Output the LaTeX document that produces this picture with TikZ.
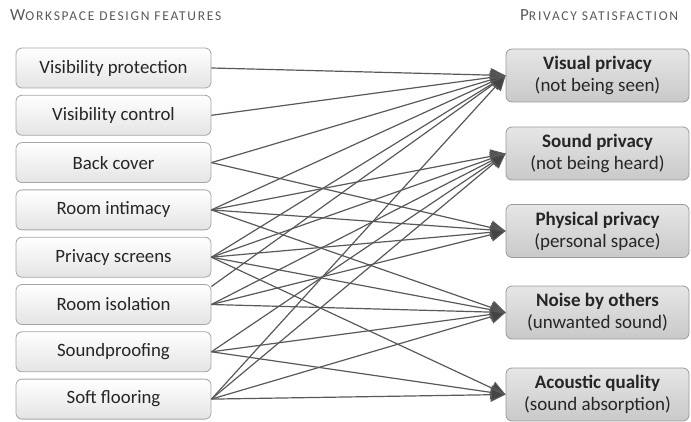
\documentclass[tikz,border=0pt]{standalone}
\usepackage{fontspec}
\setmainfont{Carlito}
\usetikzlibrary{arrows.meta}

\definecolor{txt}{HTML}{262626}
\definecolor{headgray}{HTML}{595959}
\definecolor{featline}{HTML}{A6A6A6}
\definecolor{featbot}{HTML}{E4E4E4}
\definecolor{goalline}{HTML}{9A9A9A}
\definecolor{goaltop}{HTML}{E6E6E6}
\definecolor{goalbot}{HTML}{C9C9C9}
\definecolor{linkgray}{HTML}{595959}
\definecolor{tipgray}{HTML}{444444}

% small-caps style heading: large initial, smaller capitals after it
\newcommand{\headcaps}[2]{{\fontsize{17}{17}\selectfont #1}{\fontsize{13.5}{14}\selectfont\addfontfeatures{LetterSpace=13}#2}}

\begin{document}
\begin{tikzpicture}[x=1pt,y=-1pt,
  feat/.style={draw=featline, line width=0.8pt, rounded corners=6pt,
    top color=white, bottom color=featbot,
    minimum width=195pt, minimum height=40pt, inner sep=0pt,
    text=txt, font=\fontsize{18.8}{21}\selectfont},
  goal/.style={draw=goalline, line width=0.8pt, rounded corners=6pt,
    top color=goaltop, bottom color=goalbot,
    minimum width=183pt, minimum height=53pt, inner sep=0pt,
    align=center, text=txt, font=\fontsize{19}{22}\selectfont},
  head/.style={anchor=base west, inner sep=0pt, text=headgray},
  link/.style={draw=linkgray, line width=1.2pt,
    -{Triangle[length=15pt,width=14pt,fill=tipgray]}},
]
\useasboundingbox (0,0) rectangle (691,422);

% column headings
\node[head] (hleft) at (10,21) {\headcaps{W}{ORKSPACE DESIGN FEATURES}};
\node[head] (hright) at (520,21) {\headcaps{P}{RIVACY SATISFACTION}};

% design features
\node[feat] (f1) at (113.5,68)    {Visibility protection};
\node[feat] (f2) at (113.5,115.3) {Visibility control};
\node[feat] (f3) at (113.5,162.6) {Back cover};
\node[feat] (f4) at (113.5,209.9) {Room intimacy};
\node[feat] (f5) at (113.5,257.2) {Privacy screens};
\node[feat] (f6) at (113.5,304.5) {Room isolation};
\node[feat] (f7) at (113.5,351.8) {Soundproofing};
\node[feat] (f8) at (113.5,399.1) {Soft flooring};

% privacy outcomes
\node[goal] (g1) at (597.5,75.5)  {\textbf{Visual privacy}\\(not being seen)};
\node[goal] (g2) at (597.5,153.5) {\textbf{Sound privacy}\\(not being heard)};
\node[goal] (g3) at (597.5,231)   {\textbf{Physical privacy}\\(personal space)};
\node[goal] (g4) at (597.5,312.5) {\textbf{Noise by others}\\(unwanted sound)};
\node[goal] (g5) at (597.5,394.5) {\textbf{Acoustic quality}\\(sound absorption)};

% links
\draw[link] (f1.east) -- (g1.west);
\draw[link] (f2.east) -- (g1.west);
\draw[link] (f3.east) -- (g1.west);
\draw[link] (f3.east) -- (g3.west);
\draw[link] (f4.east) -- (g1.west);
\draw[link] (f4.east) -- (g2.west);
\draw[link] (f4.east) -- (g3.west);
\draw[link] (f4.east) -- (g4.west);
\draw[link] (f5.east) -- (g1.west);
\draw[link] (f5.east) -- (g2.west);
\draw[link] (f5.east) -- (g3.west);
\draw[link] (f5.east) -- (g4.west);
\draw[link] (f5.east) -- (g5.west);
\draw[link] ([yshift=18pt]f6.east) -- (g1.west);
\draw[link] (f6.east) -- (g2.west);
\draw[link] (f6.east) -- (g3.west);
\draw[link] (f6.east) -- (g4.west);
\draw[link] (f7.east) -- (g2.west);
\draw[link] (f7.east) -- (g4.west);
\draw[link] (f7.east) -- (g5.west);
\draw[link] (f8.east) -- (g1.west);
\draw[link] (f8.east) -- (g2.west);
\draw[link] (f8.east) -- (g4.west);
\draw[link] (f8.east) -- (g5.west);
\end{tikzpicture}
\end{document}
